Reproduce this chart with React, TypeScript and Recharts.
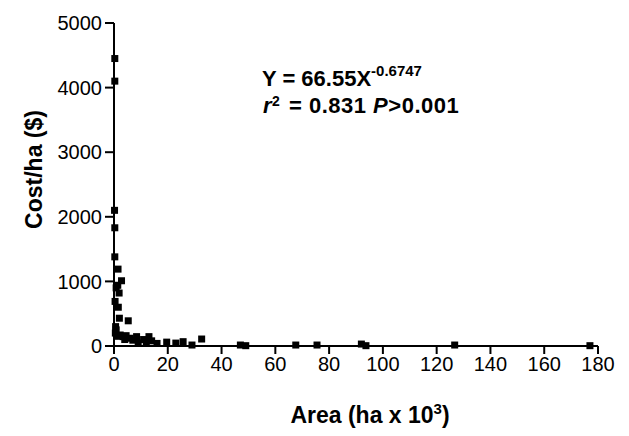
import React from 'react';
import { ScatterChart, Scatter, XAxis, YAxis } from 'recharts';

// Area (ha x 10^3) and cost per ha ($)
const areaValues = [
  0.3, 0.3, 0.2, 0.3, 0.3, 1.5, 2.8, 1.4, 1.9, 0.8, 0.4, 1.6, 2.0, 5.3, 0.6,
  0.8, 2.3, 3.4, 6.0, 8.4, 9.0, 13, 14, 11, 19.6, 23, 25.7, 29, 32.6, 47, 49,
  67.6, 75.5, 92, 93.7, 126.7, 177, 0.5, 1.0, 4.0, 7.0, 12, 16, 4.5,
];
const costValues = [
  4450, 4100, 2100, 1830, 1380, 1190, 1010, 940, 820, 900, 690, 600, 430, 390, 300,
  250, 170, 145, 120, 145, 45, 145, 80, 100, 60, 45, 67, 15, 108, 15, 5,
  15, 15, 30, 5, 15, 5, 200, 150, 100, 90, 60, 40, 160,
];
const xTicks = [0, 20, 40, 60, 80, 100, 120, 140, 160, 180];
const yTicks = [0, 1000, 2000, 3000, 4000, 5000];

const data = areaValues.map((area, i) => ({ area, cost: costValues[i] }));

const FONT = '"Liberation Sans", Arial, Helvetica, sans-serif';

const SquareDot = (props: any) => {
  const { cx, cy } = props;
  if (cx == null || cy == null) return null;
  return <rect x={cx - 3.5} y={cy - 3.5} width={7} height={7} fill="#000" />;
};

const XTitle = (props: any) => {
  const vb = props.viewBox;
  const x = vb.x + vb.width / 2 + 14;
  const y = vb.y + 77;
  return (
    <text x={x} y={y} textAnchor="middle" fontFamily={FONT} fontSize={23} fontWeight="bold" fill="#000">
      Area (ha x 10
      <tspan dy={-9} fontSize={15}>3</tspan>
      <tspan dy={9}>)</tspan>
    </text>
  );
};

const YTitle = (props: any) => {
  const vb = props.viewBox;
  const x = 34;
  const y = vb.y + vb.height / 2 - 15;
  return (
    <text
      x={x}
      y={y}
      transform={`rotate(-90, ${x}, ${y})`}
      textAnchor="middle"
      fontFamily={FONT}
      fontSize={23}
      fontWeight="bold"
      fill="#000"
    >
      Cost/ha ($)
    </text>
  );
};

export default function App() {
  return (
    <div style={{ position: 'relative', width: 621, height: 428 }}>
      <ScatterChart width={621} height={428} margin={{ top: 15, right: 31, bottom: 20, left: 0 }}>
        <XAxis
          type="number"
          dataKey="area"
          domain={[0, 180]}
          ticks={xTicks}
          interval={0}
          height={70}
          tickSize={8}
          tickMargin={3}
          axisLine={{ stroke: '#000', strokeWidth: 2 }}
          tickLine={{ stroke: '#000', strokeWidth: 2 }}
          tick={{ fill: '#000', fontSize: 20, fontFamily: FONT }}
          label={{ content: XTitle }}
        />
        <YAxis
          type="number"
          dataKey="cost"
          domain={[0, 5000]}
          ticks={yTicks}
          interval={0}
          width={106}
          tickSize={9}
          tickMargin={3}
          axisLine={{ stroke: '#000', strokeWidth: 2 }}
          tickLine={{ stroke: '#000', strokeWidth: 2 }}
          tick={{ fill: '#000', fontSize: 20, fontFamily: FONT }}
          label={{ content: YTitle }}
        />
        <Scatter data={data} shape={SquareDot} isAnimationActive={false} />
      </ScatterChart>
      <svg
        width={621}
        height={428}
        style={{ position: 'absolute', left: 0, top: 0, pointerEvents: 'none' }}
      >
        <text x={254} y={78} fontFamily={FONT} fontSize={22} fontWeight="bold" fill="#000">
          Y = 66.55X
          <tspan dy={-10} fontSize={15}>-0.6747</tspan>
        </text>
        <text x={255} y={105} fontFamily={FONT} fontSize={22} fontWeight="bold" fill="#000" letterSpacing={0.5}>
          <tspan fontStyle="italic">r</tspan>
          <tspan dy={-7} fontSize={14}>2</tspan>
          <tspan dy={7} dx={2}> = 0.831 </tspan>
          <tspan fontStyle="italic">P</tspan>
          <tspan>&gt;0.001</tspan>
        </text>
      </svg>
    </div>
  );
}
